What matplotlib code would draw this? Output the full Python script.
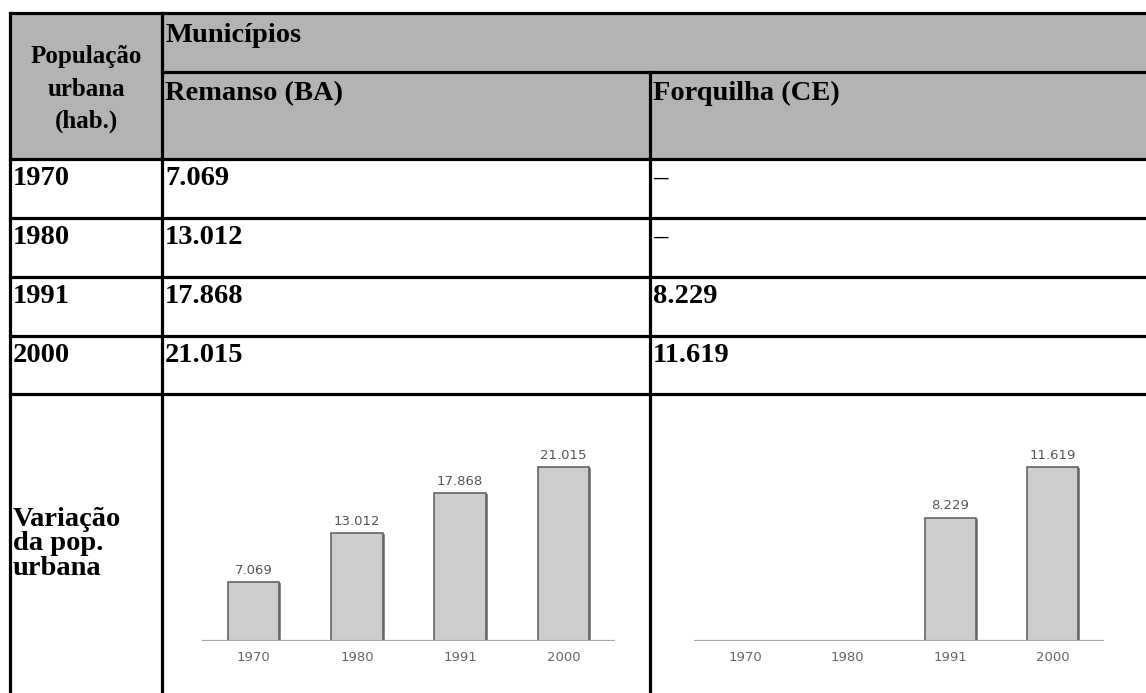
import numpy as np
import matplotlib
matplotlib.use("Agg")
import matplotlib.pyplot as plt
import matplotlib.transforms as mtransforms
from matplotlib.patches import Rectangle

plt.rcParams['font.family'] = ['Liberation Serif', 'DejaVu Serif']

# dados
anos = ['1970', '1980', '1991', '2000']
remanso = [7069, 13012, 17868, 21015]
forquilha = [np.nan, np.nan, 8229, 11619]
municipios = ['Remanso (BA)', 'Forquilha (CE)']
cab_linhas = ['População', 'urbana', '(hab.)']
var_linhas = ['Variação', 'da pop.', 'urbana']


def fmt(v):
    if np.isnan(v):
        return '–'
    return f"{int(v):,}".replace(',', '.')


fig = plt.figure(figsize=(11.46, 6.93), dpi=100)

# tabela em coordenadas de pixel
ax = fig.add_axes([0, 0, 1, 1])
ax.set_xlim(0, 1146)
ax.set_ylim(693, 0)
ax.axis('off')

x0, xc1, xc2, xr = 10, 162, 650, 1160
y_top, y_sub, y_head = 13, 72, 159
row_y = [159, 218, 277, 336, 394]
y_bot = 700

ax.add_patch(Rectangle((x0, y_top), xr - x0, y_head - y_top, color='#b2b3b2', lw=0))

lw = 2.3
ax.plot([x0, xr], [y_top, y_top], color='k', lw=lw)
ax.plot([xc1, xr], [y_sub, y_sub], color='k', lw=lw)
for y in row_y:
    ax.plot([x0, xr], [y, y], color='k', lw=lw)
ax.plot([x0, x0], [y_top, y_bot], color='k', lw=lw)
ax.plot([xc1, xc1], [y_top, y_bot], color='k', lw=lw)
ax.plot([xc2, xc2], [y_sub, y_bot], color='k', lw=lw)

fs = 20.5
for i, linha in enumerate(cab_linhas):
    ax.text((x0 + xc1) / 2, 63 + 32.5 * i, linha, ha='center', va='baseline',
            fontsize=18, fontweight='bold')
ax.text(xc1 + 3, 42, 'Municípios', ha='left', va='baseline', fontsize=fs, fontweight='bold')
ax.text(xc1 + 3, 100, municipios[0], ha='left', va='baseline', fontsize=fs, fontweight='bold')
ax.text(xc2 + 3, 100, municipios[1], ha='left', va='baseline', fontsize=fs, fontweight='bold')

for i, ano in enumerate(anos):
    yb = row_y[i] + 26
    ax.text(x0 + 3, yb, ano, ha='left', va='baseline', fontsize=fs, fontweight='bold')
    ax.text(xc1 + 3, yb, fmt(remanso[i]), ha='left', va='baseline', fontsize=fs, fontweight='bold')
    ax.text(xc2 + 3, yb, fmt(forquilha[i]), ha='left', va='baseline', fontsize=fs, fontweight='bold')

for i, linha in enumerate(var_linhas):
    ax.text(x0 + 3, 526 + 24.5 * i, linha, ha='left', va='baseline',
            fontsize=fs, fontweight='bold')


# graficos de barras dentro das celulas
def grafico(left_px, right_px, valores):
    W, H = 1146, 693
    base, topo = 641, 441
    a = fig.add_axes([left_px / W, (H - base) / H, (right_px - left_px) / W, (base - topo) / H])
    x = np.arange(len(anos))
    vals = np.array(valores, dtype=float)
    vmax = np.nanmax(vals)
    sombra = a.transData + mtransforms.ScaledTranslation(2 / 100, -1 / 100, fig.dpi_scale_trans)
    a.bar(x, np.nan_to_num(vals), width=0.5, color='#8a8a8a', lw=0, transform=sombra)
    a.bar(x, np.nan_to_num(vals), width=0.5, color='#cdcdcd', edgecolor='#5a5a5a', lw=1.1)
    for xi, v in zip(x, vals):
        if not np.isnan(v):
            a.annotate(fmt(v), (xi, v), xytext=(0, 4), textcoords='offset points',
                       ha='center', va='bottom', fontsize=9.5, color='#555555',
                       family='DejaVu Sans')
    a.axhline(0, color='#a8a8a8', lw=1.6)
    a.set_xlim(-0.5, len(anos) - 0.5)
    a.set_ylim(0, vmax * 1.15)
    a.set_xticks(x)
    a.set_xticklabels(anos, fontsize=9.5, color='#666666', family='DejaVu Sans')
    a.tick_params(axis='x', length=0, pad=7)
    a.set_yticks([])
    for s in a.spines.values():
        s.set_visible(False)
    a.patch.set_alpha(0)


grafico(202, 615, remanso)
grafico(694, 1104, forquilha)

fig.savefig('out.png', dpi=100, facecolor='white')
